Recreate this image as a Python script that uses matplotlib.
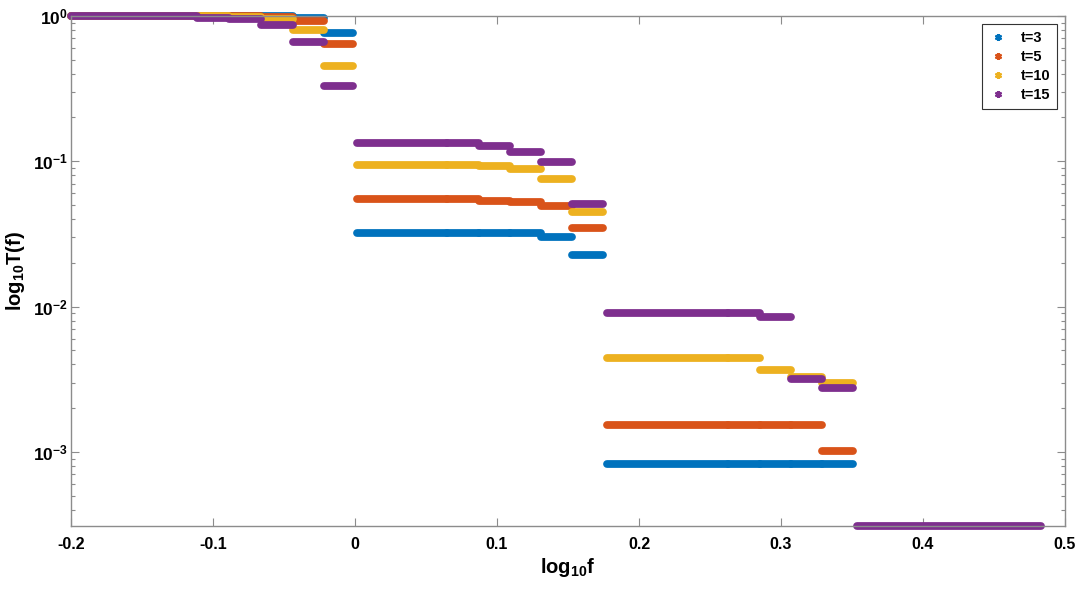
import numpy as np
import matplotlib
matplotlib.use('Agg')
import matplotlib.pyplot as plt
from matplotlib.lines import Line2D
from matplotlib.ticker import FuncFormatter, LogLocator, NullFormatter

plt.rcParams['font.family'] = ['Liberation Sans', 'DejaVu Sans']
plt.rcParams['font.weight'] = 'bold'
plt.rcParams['mathtext.fontset'] = 'custom'
plt.rcParams['mathtext.rm'] = 'Liberation Sans:bold'
plt.rcParams['mathtext.bf'] = 'Liberation Sans:bold'
plt.rcParams['mathtext.it'] = 'Liberation Sans:bold'

# ---- data ----
series_labels = ['t=3', 't=5', 't=10', 't=15']
series_colors = ['#0072BD', '#D95319', '#EDB120', '#7E2F8E']

# horizontal step segments in log10 f
seg_start = [-0.2, -0.111, -0.089, -0.066, -0.044, -0.022,
             0.0015, 0.065, 0.087, 0.109, 0.131, 0.153,
             0.1775, 0.263, 0.285, 0.307, 0.329,
             0.3535]
seg_end = [-0.111, -0.089, -0.066, -0.044, -0.022, -0.0015,
           0.065, 0.087, 0.109, 0.131, 0.153, 0.1745,
           0.263, 0.285, 0.307, 0.329, 0.351,
           0.483]

nan = float('nan')
T_t3 = [1.0, 1.0, 1.0, 1.0, 0.972, 0.762,
        0.032, 0.032, 0.032, 0.032, 0.0303, 0.0227,
        0.00082, 0.00082, 0.00082, 0.00082, 0.00082,
        nan]
T_t5 = [1.0, 1.0, 1.0, 0.985, 0.928, 0.642,
        0.055, 0.055, 0.0535, 0.0525, 0.049, 0.0345,
        0.00152, 0.00152, 0.00152, 0.00152, 0.00101,
        nan]
T_t10 = [1.0, 1.0, 0.985, 0.949, 0.80, 0.453,
         0.0947, 0.0945, 0.0928, 0.0885, 0.0755, 0.045,
         0.00445, 0.00445, 0.00366, 0.00326, 0.00297,
         nan]
T_t15 = [1.0, 0.975, 0.955, 0.867, 0.665, 0.330,
         0.134, 0.133, 0.127, 0.1165, 0.0985, 0.0508,
         0.00908, 0.0090, 0.00852, 0.00316, 0.00275,
         0.000309]
series_values = [T_t3, T_t5, T_t10, T_t15]

x_ticks = [-0.2, -0.1, 0, 0.1, 0.2, 0.3, 0.4, 0.5]
x_tick_labels = ['-0.2', '-0.1', '0', '0.1', '0.2', '0.3', '0.4', '0.5']
x_limits = (-0.2, 0.5)
y_limits = (0.000309, 1.0)

# ---- figure ----
fig = plt.figure(figsize=(10.84, 5.89), dpi=100)
ax = fig.add_axes([0.0655, 0.107, 0.917, 0.866])
ax.set_yscale('log')

for vals, col in zip(series_values, series_colors):
    for s, e, v in zip(seg_start, seg_end, vals):
        if np.isnan(v):
            continue
        ax.plot([s, e], [v, v], color=col, lw=5.6, solid_capstyle='round',
                clip_on=False)

ax.set_xlim(*x_limits)
ax.set_ylim(*y_limits)
ax.set_xticks(x_ticks)
ax.set_xticklabels(x_tick_labels)
ax.yaxis.set_major_locator(LogLocator(base=10, numticks=10))
ax.yaxis.set_minor_locator(LogLocator(base=10, subs=np.arange(2, 10), numticks=20))
ax.yaxis.set_major_formatter(FuncFormatter(lambda v, p: r'$\mathbf{10^{%d}}$' % int(round(np.log10(v)))))
ax.yaxis.set_minor_formatter(NullFormatter())

axis_gray = '#8c8c8c'
for sp in ax.spines.values():
    sp.set_color(axis_gray)
    sp.set_linewidth(1.0)
ax.tick_params(which='both', direction='in', top=True, right=True,
               color=axis_gray, labelcolor='black')
ax.tick_params(which='major', length=6, width=0.8)
ax.tick_params(which='minor', length=3, width=0.8)
ax.tick_params(axis='x', labelsize=11.5, pad=8)
ax.tick_params(axis='y', labelsize=12.5, pad=2)
for lab in ax.get_xticklabels() + ax.get_yticklabels():
    lab.set_fontweight('bold')

ax.set_xlabel(r'$\mathbf{log_{10}f}$', fontsize=14.5, labelpad=3)
ax.set_ylabel(r'$\mathbf{log_{10}T(f)}$', fontsize=14.5)
ax.yaxis.set_label_coords(-0.0445, 0.5)

handles = [Line2D([], [], ls='none', marker=(6, 2, 0), ms=5, mew=1.6,
                  color=c) for c in series_colors]
leg = ax.legend(handles, series_labels, loc='upper right',
                bbox_to_anchor=(0.992, 0.984), borderaxespad=0,
                prop={'size': 10.5, 'weight': 'bold'}, frameon=True,
                fancybox=False, framealpha=1, edgecolor='#333333',
                labelspacing=0.35, handlelength=1.3, handletextpad=0.9,
                borderpad=0.45)
leg.get_frame().set_linewidth(0.8)

fig.savefig('out.png', dpi=100)
